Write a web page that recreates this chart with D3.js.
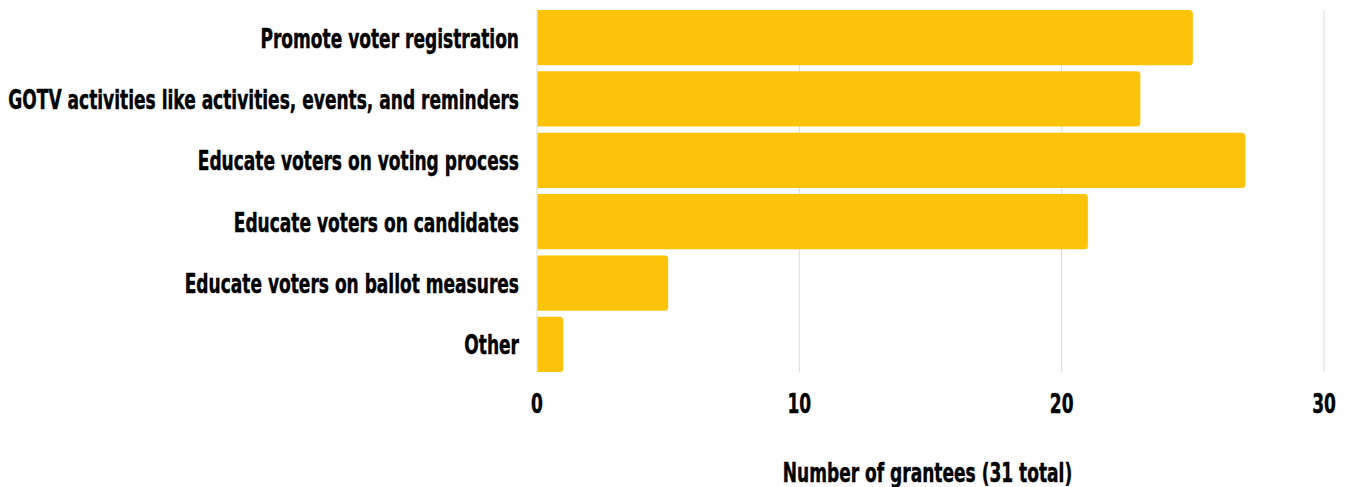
<!DOCTYPE html>
<html>
<head>
<meta charset="utf-8">
<script src="https://cdn.jsdelivr.net/npm/d3@7"></script>
<style>
  html, body { margin: 0; padding: 0; background: #ffffff; }
  svg { display: block; }
  text { font-family: "Liberation Sans Narrow", "DejaVu Sans Condensed", "Roboto", sans-serif; font-weight: 700; fill: #000; stroke: #000; stroke-width: 0.45; }
</style>
</head>
<body>
<svg id="chart" width="1347" height="487"></svg>
<script>
// Activities grantees undertook, counted per grantee
const categories = [
  "Promote voter registration",
  "GOTV activities like activities, events, and reminders",
  "Educate voters on voting process",
  "Educate voters on candidates",
  "Educate voters on ballot measures",
  "Other"
];
const values = [25, 23, 27, 21, 5, 1];
const tickValues = [0, 10, 20, 30];
const axisTitle = "Number of grantees (31 total)";

const width = 1347, height = 487;
const margin = { top: 10, right: 23, bottom: 115, left: 537 };
const svg = d3.select("#chart");

const x = d3.scaleLinear().domain([0, 30]).range([margin.left, width - margin.right]);
const y = d3.scaleBand().domain(categories).range([margin.top, height - margin.bottom]).paddingInner(0.1).paddingOuter(0);

// Vertical gridlines
svg.append("g").selectAll("line").data(tickValues).join("line")
  .attr("x1", d => x(d)).attr("x2", d => x(d))
  .attr("y1", margin.top).attr("y2", height - margin.bottom)
  .attr("stroke", "#dcdcdc").attr("stroke-width", 1);

// Bars with rounded right corners
const r = 3.5;
function barPath(d, i) {
  const x0 = x(0) + 0.5, x1 = x(d), y0 = y(categories[i]), h = y.bandwidth();
  return `M${x0},${y0}H${x1 - r}Q${x1},${y0} ${x1},${y0 + r}V${y0 + h - r}Q${x1},${y0 + h} ${x1 - r},${y0 + h}H${x0}Z`;
}
svg.append("g").selectAll("path").data(values).join("path")
  .attr("d", barPath)
  .attr("fill", "#fbc30a");

// Condensed text: squeeze the narrow face horizontally
const fs = 26;
const probe = svg.append("text").attr("font-size", fs).text(categories[1]);
const natural = probe.node().getComputedTextLength();
probe.remove();
const k = 511 / natural;

function addText(g, str, xPos, yPos, anchor) {
  g.append("text")
    .attr("transform", `translate(${xPos},${yPos}) scale(${k},1)`)
    .attr("text-anchor", anchor)
    .attr("font-size", fs)
    .text(str);
}

// Category labels
const labels = svg.append("g");
categories.forEach(c => addText(labels, c, x(0) - 18, y(c) + y.bandwidth() / 2 + 10, "end"));

// Tick labels
const ticks = svg.append("g");
tickValues.forEach(t => addText(ticks, String(t), x(t), 413, "middle"));

// Axis title
addText(svg.append("g"), axisTitle, (x(0) + x(30)) / 2 - 3, 482, "middle");
</script>
</body>
</html>
